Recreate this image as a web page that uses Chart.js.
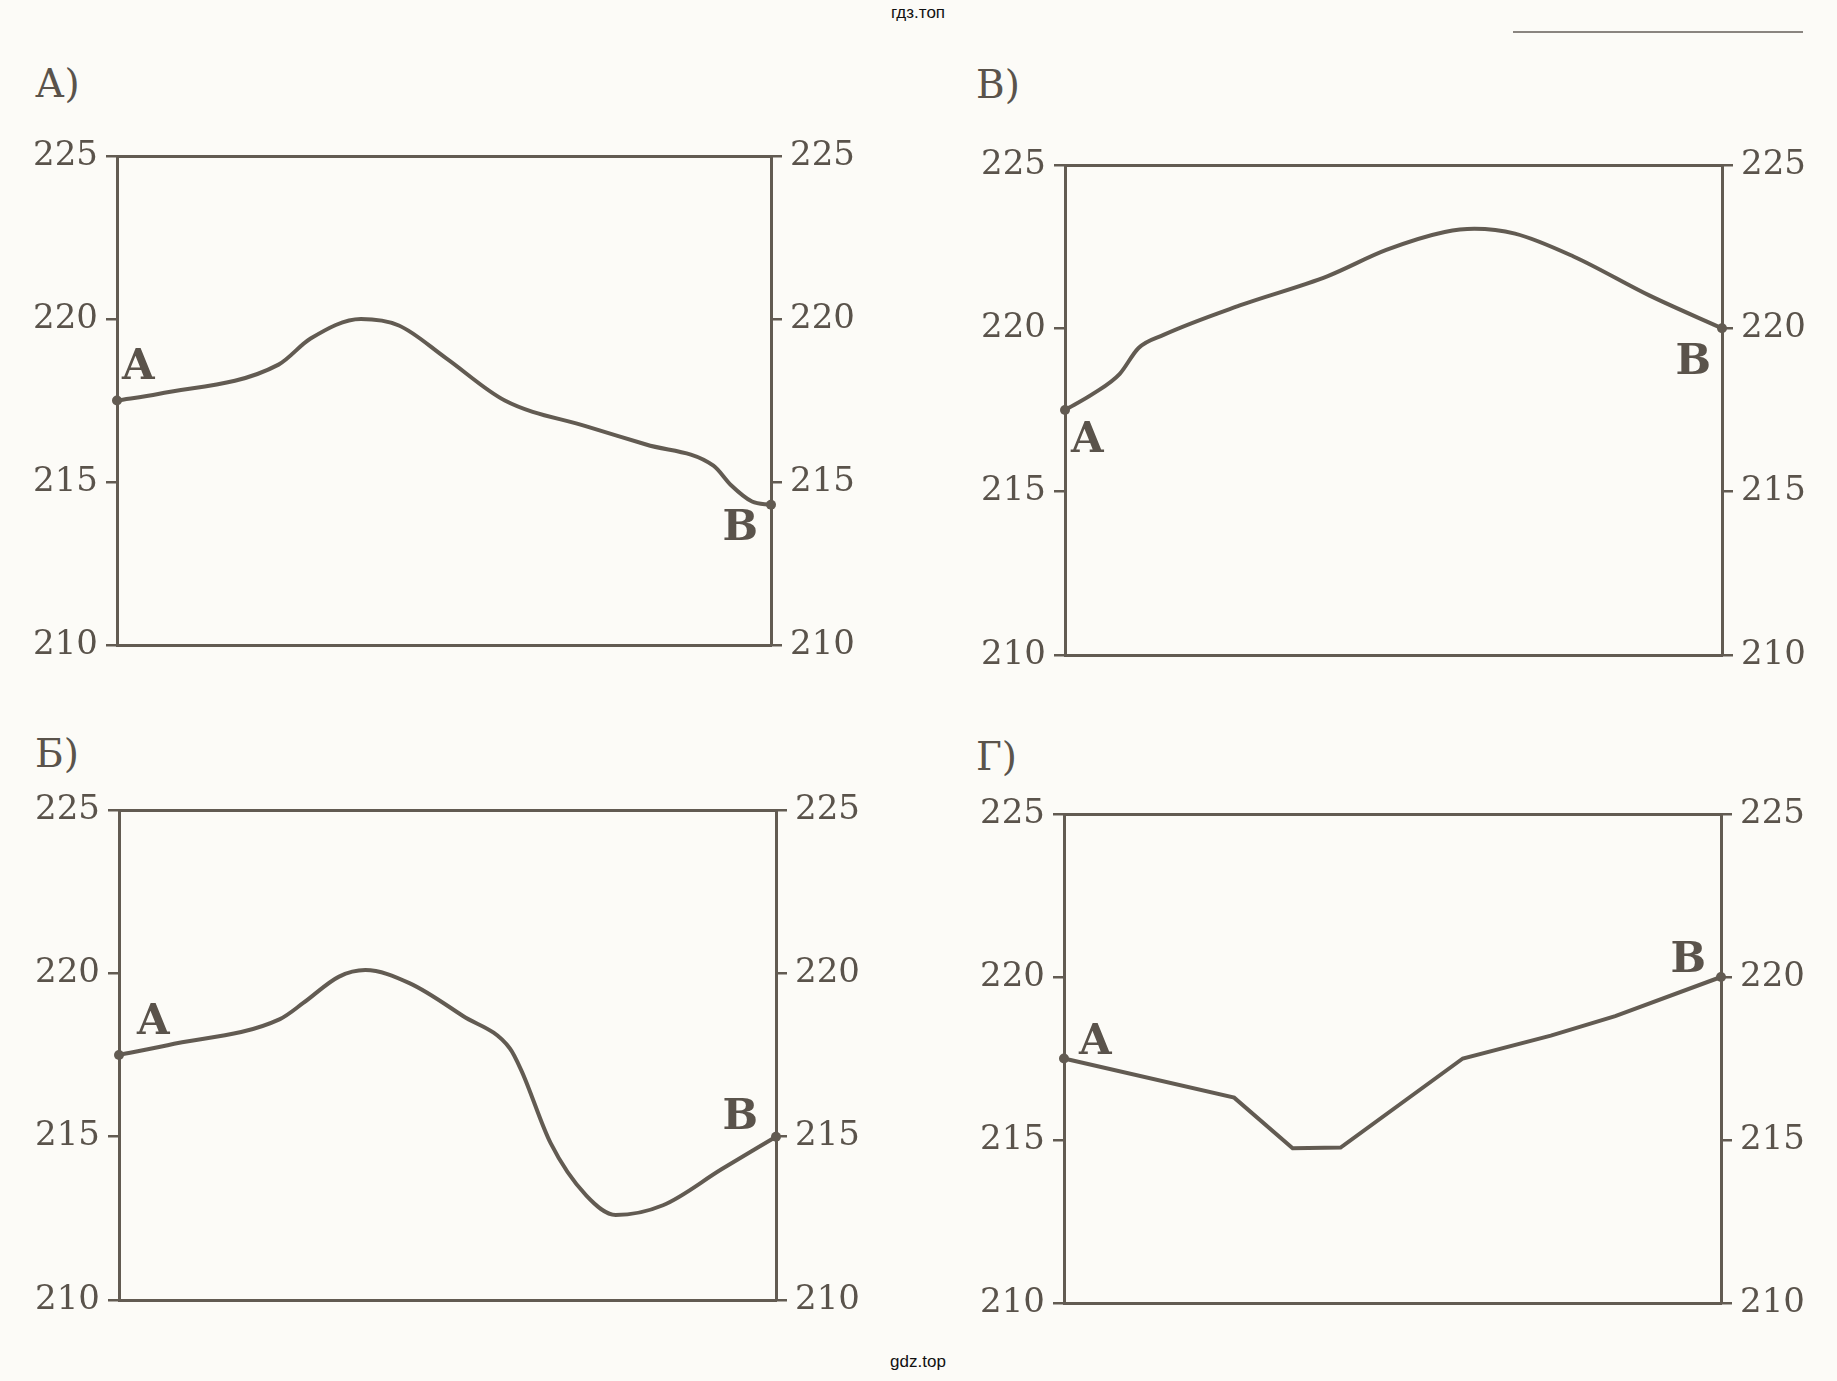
<!DOCTYPE html>
<html>
<head>
<meta charset="utf-8">
<script src="https://cdn.jsdelivr.net/npm/chart.js@4"></script>
<style>
  body { margin: 0; width: 1837px; height: 1381px; background: #fcfbf7; position: relative; overflow: hidden; }
  .box { position: absolute; }
  .title { position: absolute; font-family: "DejaVu Serif", serif; font-size: 39px; color: #5a534b; line-height: 1; }
  .wm { position: absolute; width: 200px; text-align: center; font-family: "Liberation Sans", Arial, sans-serif; font-size: 17px; color: #111; }
  .rule { position: absolute; left: 1513px; top: 31px; width: 290px; border-top: 2px solid #8a8580; }
</style>
</head>
<body>
<div class="wm" style="left:818px; top:3px;">гдз.топ</div>
<div class="rule"></div>
<div class="wm" style="left:818px; top:1352px;">gdz.top</div>

<div class="title" style="left:35px; top:64px;">А)</div>
<div class="title" style="left:976px; top:65px;">В)</div>
<div class="title" style="left:35px; top:734px;">Б)</div>
<div class="title" style="left:976px; top:737px;">Г)</div>

<div class="box" style="left:17px; top:116px; width:884px; height:569px;"><canvas id="chartA"></canvas></div>
<div class="box" style="left:965px; top:125px; width:887px; height:570px;"><canvas id="chartV"></canvas></div>
<div class="box" style="left:19px; top:770px; width:887px; height:570px;"><canvas id="chartB"></canvas></div>
<div class="box" style="left:964px; top:774px; width:887px; height:569px;"><canvas id="chartG"></canvas></div>

<script>
// x is position along the span in percent, y is the value
var xA = [0, 6.3, 24.7, 29.6, 37.3, 43.1, 50.3, 59.3, 71.9, 80.9, 91.2, 93.9, 97.1, 100];
var yA = [217.5, 217.7, 218.6, 219.4, 220.0, 219.8, 218.8, 217.5, 216.7, 216.15, 215.5, 214.9, 214.4, 214.3];

var xV = [0, 4.3, 8.3, 11.2, 15.0, 26.6, 40.0, 48.9, 57.8, 62.3, 68.5, 77.4, 89.0, 100];
var yV = [217.5, 218.0, 218.6, 219.4, 219.8, 220.7, 221.6, 222.4, 222.95, 223.05, 222.9, 222.2, 221.0, 220.0];

var xB = [0, 7.4, 24.5, 28.1, 33.5, 37.5, 44.2, 52.3, 59.5, 61.3, 65.7, 71.1, 75.6, 82.8, 91.7, 100];
var yB = [217.5, 217.8, 218.6, 219.1, 219.9, 220.1, 219.7, 218.7, 217.7, 217.0, 214.8, 213.2, 212.6, 212.9, 214.0, 215.0];

var xG = [0, 25.9, 34.8, 42.1, 60.7, 74.1, 83.9, 100];
var yG = [217.5, 216.3, 214.75, 214.77, 217.5, 218.2, 218.8, 220.0];

var yTicks = [210, 215, 220, 225];
var endNames = ['A', 'B'];

var INK = '#625b52';
var TXT = '#5a534b';

// draws the A / B letters next to the end points
var endLabels = {
  id: 'endLabels',
  afterDatasetsDraw: function(chart) {
    var o = chart.options.plugins.endLabels;
    var pts = chart.getDatasetMeta(0).data;
    var ends = [pts[0], pts[pts.length - 1]];
    var ctx = chart.ctx;
    ctx.save();
    ctx.font = 'bold 42px "DejaVu Serif", serif';
    ctx.fillStyle = TXT;
    ctx.textBaseline = 'alphabetic';
    [o.a, o.b].forEach(function(p, i) {
      ctx.textAlign = p.align;
      ctx.fillText(endNames[i], ends[i].x + p.dx, ends[i].y + p.dy);
    });
    ctx.restore();
  }
};

function makeChart(id, xs, ys, smooth, marks) {
  var pts = xs.map(function(x, i) { return {x: x, y: ys[i]}; });
  var radius = pts.map(function(p, i) { return (i === 0 || i === pts.length - 1) ? 5 : 0; });
  var yAxis = function(pos, w) {
    return {
      type: 'linear', position: pos, min: 210, max: 225,
      afterBuildTicks: function(s) { s.ticks = yTicks.map(function(v) { return {value: v}; }); },
      afterFit: function(s) { s.width = w; },
      ticks: { color: TXT, padding: 8, font: { family: 'DejaVu Serif', size: 34 } },
      grid: { drawOnChartArea: false, drawTicks: true, tickLength: 11, color: INK, lineWidth: 2.5 },
      border: { color: INK, width: 3 }
    };
  };
  var xAxis = function(pos) {
    return {
      type: 'linear', position: pos, min: 0, max: 100,
      afterFit: function(s) { s.height = 40; },
      ticks: { display: false },
      grid: { display: false },
      border: { color: INK, width: 3 }
    };
  };
  return new Chart(document.getElementById(id), {
    type: 'line',
    data: {
      datasets: [{
        data: pts,
        xAxisID: 'x', yAxisID: 'y',
        borderColor: INK,
        backgroundColor: INK,
        borderWidth: 4,
        pointRadius: radius,
        pointBorderWidth: 0,
        pointBackgroundColor: INK,
        cubicInterpolationMode: smooth ? 'monotone' : 'default',
        tension: smooth ? 0.4 : 0,
        clip: false
      }]
    },
    options: {
      responsive: true,
      maintainAspectRatio: false,
      animation: false,
      layout: { padding: 0 },
      plugins: { legend: { display: false }, tooltip: { enabled: false }, endLabels: marks },
      scales: {
        x: xAxis('bottom'),
        xTop: xAxis('top'),
        y: yAxis('left', 100),
        y2: yAxis('right', 130)
      }
    },
    plugins: [endLabels]
  });
}

makeChart('chartA', xA, yA, true, { a: {dx: 5, dy: -22, align: 'left'}, b: {dx: -13, dy: 35, align: 'right'} });
makeChart('chartV', xV, yV, true, { a: {dx: 6, dy: 42, align: 'left'}, b: {dx: -11, dy: 46, align: 'right'} });
makeChart('chartB', xB, yB, true, { a: {dx: 18, dy: -21, align: 'left'}, b: {dx: -18, dy: -8, align: 'right'} });
makeChart('chartG', xG, yG, false, { a: {dx: 15, dy: -5, align: 'left'}, b: {dx: -15, dy: -5, align: 'right'} });
</script>
</body>
</html>
